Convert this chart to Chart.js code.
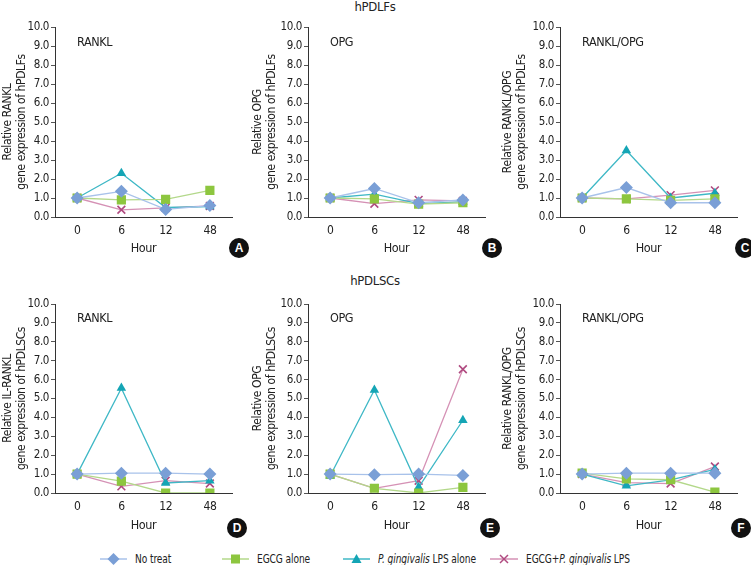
<!DOCTYPE html>
<html>
<head>
<meta charset="utf-8">
<script src="https://cdn.jsdelivr.net/npm/chart.js@4.4.1/dist/chart.umd.min.js"></script>
<style>
  html, body { margin:0; padding:0; background:#fff; }
  body { width:751px; height:565px; position:relative; overflow:hidden;
         font-family:"DejaVu Sans Condensed","Liberation Sans",sans-serif; color:#222; }
  .pane { position:absolute; }
  .sect { position:absolute; font-size:13px; letter-spacing:-0.3px; transform:translateX(-50%); white-space:nowrap; }
  .badge { position:absolute; width:20px; height:20px; border-radius:50%; background:#111; color:#fff;
           font-family:"Liberation Sans","DejaVu Sans",sans-serif; font-weight:bold; font-size:12px;
           line-height:20px; text-align:center; transform:translate(-50%,-50%); }
  .leg { position:absolute; top:550px; height:18px; display:flex; align-items:center; font-size:12px; white-space:nowrap; }
  .leg svg { margin-right:8px; flex:none; }
  .leg span { display:inline-block; transform:scaleX(0.84); transform-origin:left center; letter-spacing:-0.1px; }
</style>
</head>
<body>
<div class="sect" style="left:375px; top:-1px;">hPDLFs</div>
<div class="sect" style="left:375px; top:273px;">hPDLSCs</div>

<canvas id="cA" class="pane"></canvas>
<canvas id="cB" class="pane"></canvas>
<canvas id="cC" class="pane"></canvas>
<canvas id="cD" class="pane"></canvas>
<canvas id="cE" class="pane"></canvas>
<canvas id="cF" class="pane"></canvas>

<div class="badge" style="left:239px; top:248px;">A</div>
<div class="badge" style="left:492px; top:248px;">B</div>
<div class="badge" style="left:745px; top:248px;">C</div>
<div class="badge" style="left:237px; top:528px;">D</div>
<div class="badge" style="left:490px; top:528px;">E</div>
<div class="badge" style="left:741px; top:528px;">F</div>

<div class="leg" style="left:100px;">
  <svg width="27" height="14"><line x1="0" y1="7" x2="27" y2="7" stroke="#a8c2ea" stroke-width="1.5"/><polygon points="13.5,1 19.5,7 13.5,13 7.5,7" fill="#7a9fd6"/></svg><span>No treat</span></div>
<div class="leg" style="left:222px;">
  <svg width="27" height="14"><line x1="0" y1="7" x2="27" y2="7" stroke="#b3d88a" stroke-width="1.5"/><rect x="9" y="2.5" width="9" height="9" fill="#8dc63f"/></svg><span>EGCG alone</span></div>
<div class="leg" style="left:343px;">
  <svg width="27" height="14"><line x1="0" y1="7" x2="27" y2="7" stroke="#3fb8c6" stroke-width="1.5"/><polygon points="13.5,2 18.5,11 8.5,11" fill="#14a5b5"/></svg><span><i>P. gingivalis</i> LPS alone</span></div>
<div class="leg" style="left:490px;">
  <svg width="28" height="14"><line x1="0" y1="7" x2="28" y2="7" stroke="#d591b5" stroke-width="1.5"/><path d="M10,3 L18,11 M18,3 L10,11" stroke="#b04a80" stroke-width="1.5"/></svg><span>EGCG+<i>P. gingivalis</i> LPS</span></div>

<script>
// ---------- data ----------
const hours = ['0', '6', '12', '48'];
const yTickValues = [0,1,2,3,4,5,6,7,8,9,10];
const seriesNames = ['No treat', 'EGCG alone', 'P. gingivalis LPS alone', 'EGCG+P. gingivalis LPS'];

// hPDLFs
const fRanklNoTreat = [1.0, 1.35, 0.40, 0.60];
const fRanklEgcg    = [1.0, 0.90, 0.93, 1.40];
const fRanklLps     = [1.0, 2.30, 0.50, 0.55];
const fRanklCombo   = [1.0, 0.38, 0.48, 0.58];

const fOpgNoTreat = [1.0, 1.50, 0.75, 0.90];
const fOpgEgcg    = [1.0, 0.95, 0.68, 0.75];
const fOpgLps     = [1.0, 1.20, 0.70, 0.80];
const fOpgCombo   = [1.0, 0.70, 0.90, 0.85];

const fRatioNoTreat = [1.0, 1.55, 0.75, 0.75];
const fRatioEgcg    = [1.0, 0.95, 0.88, 0.95];
const fRatioLps     = [1.0, 3.50, 1.00, 1.25];
const fRatioCombo   = [1.0, 0.95, 1.15, 1.40];

// hPDLSCs
const sRanklNoTreat = [1.0, 1.05, 1.05, 1.00];
const sRanklEgcg    = [1.0, 0.63, 0.00, 0.00];
const sRanklLps     = [1.0, 5.55, 0.53, 0.65];
const sRanklCombo   = [1.0, 0.35, 0.65, 0.50];

const sOpgNoTreat = [1.0, 0.97, 1.00, 0.93];
const sOpgEgcg    = [1.0, 0.25, 0.00, 0.30];
const sOpgLps     = [0.9, 5.45, 0.30, 3.85];
const sOpgCombo   = [1.0, 0.25, 0.65, 6.55];

const sRatioNoTreat = [1.0, 1.05, 1.05, 1.05];
const sRatioEgcg    = [1.05, 0.75, 0.70, 0.05];
const sRatioLps     = [1.0, 0.38, 0.70, 1.25];
const sRatioCombo   = [1.0, 0.55, 0.50, 1.40];

// ---------- styles ----------
const FONT = '"DejaVu Sans Condensed","Liberation Sans",sans-serif';
const styles = [
  {line:'#a8c2ea', mark:'#7a9fd6', pointStyle:'rectRot', r:6.5},
  {line:'#b3d88a', mark:'#8dc63f', pointStyle:'rect', r:6.5},
  {line:'#3fb8c6', mark:'#14a5b5', pointStyle:'triangle', r:5.5},
  {line:'#d591b5', mark:'#b04a80', pointStyle:'crossRot', r:5.5},
];

function makeDatasets(arrs) {
  return arrs.map((d, i) => ({
    label: seriesNames[i],
    data: d,
    borderColor: styles[i].line,
    borderWidth: 1.3,
    pointStyle: styles[i].pointStyle,
    pointRadius: styles[i].r,
    pointHoverRadius: styles[i].r,
    pointBackgroundColor: styles[i].mark,
    pointBorderColor: styles[i].mark,
    pointBorderWidth: i === 3 ? 1.6 : 0,
    tension: 0,
    fill: false
  }));
}

const condense = {
  id: 'condense',
  beforeInit(chart) { try { chart.ctx.letterSpacing = '-0.4px'; } catch (e) {} },
  beforeUpdate(chart) { try { chart.ctx.letterSpacing = '-0.4px'; } catch (e) {} }
};

const panelLabel = {
  id: 'panelLabel',
  afterDraw(chart, args, opts) {
    const {ctx, chartArea} = chart;
    ctx.save();
    ctx.font = '12.5px ' + FONT;
    ctx.fillStyle = '#222';
    ctx.textBaseline = 'middle';
    ctx.textAlign = 'left';
    ctx.fillText(opts.text, chartArea.left + 22, chartArea.top + opts.dy);
    ctx.restore();
  }
};

function makePanel(id, box, area, label, ytitle, arrs) {
  const cv = document.getElementById(id);
  cv.style.left = box.left + 'px';
  cv.style.top = box.top + 'px';
  cv.style.width = box.w + 'px';
  cv.style.height = box.h + 'px';
  cv.width = box.w; cv.height = box.h;
  const yW = area.left - box.left;
  const xH = (box.top + box.h) - area.bottom;
  new Chart(cv, {
    type: 'line',
    data: { labels: hours, datasets: makeDatasets(arrs) },
    plugins: [condense, panelLabel],
    options: {
      responsive: false,
      animation: false,
      devicePixelRatio: 1,
      layout: { padding: { top: area.top - box.top, right: (box.left + box.w) - area.right, left: 0, bottom: 0 } },
      plugins: {
        legend: { display: false },
        tooltip: { enabled: false },
        panelLabel: { text: label, dy: area.dy }
      },
      scales: {
        x: {
          type: 'category',
          offset: true,
          grid: { display: false, drawTicks: false },
          border: { display: true, color: '#333', width: 1 },
          ticks: { color: '#222', font: { family: FONT, size: 12 }, padding: 7, maxRotation: 0 },
          title: { display: true, text: 'Hour', color: '#222', font: { family: FONT, size: 12.5 }, padding: { top: 2, bottom: area.tpad } },
          afterFit(s) { s.height = xH; }
        },
        y: {
          min: 0, max: 10,
          afterBuildTicks(s) { s.ticks = yTickValues.map(v => ({ value: v })); },
          grid: { display: true, drawOnChartArea: false, drawTicks: true, tickLength: 4, color: '#555' },
          border: { display: true, color: '#333', width: 1 },
          ticks: { color: '#222', font: { family: FONT, size: 11.5 }, padding: 2, callback: v => Number(v).toFixed(1) },
          title: { display: true, text: ytitle, color: '#222', font: { family: FONT, size: 12, lineHeight: 1.18 }, padding: { top: 1, bottom: 0 } },
          afterFit(s) { s.width = yW; }
        }
      }
    }
  });
}

const topBox = (l, w) => ({ left: l, top: 0, w: w, h: 262 });
const botBox = (l, w) => ({ left: l, top: 262, w: w, h: 280 });
const topArea = (l, r) => ({ left: l, right: r, top: 27, bottom: 217, dy: 16, tpad: 6 });
const botArea = (l, r) => ({ left: l, right: r, top: 304, bottom: 493, dy: 15, tpad: 9 });

makePanel('cA', topBox(0, 250),   topArea(55, 232),  'RANKL',     ['Relative RANKL', 'gene expression of hPDLFs'],      [fRanklNoTreat, fRanklEgcg, fRanklLps, fRanklCombo]);
makePanel('cB', topBox(250, 250), topArea(308, 485), 'OPG',       ['Relative OPG', 'gene expression of hPDLFs'],        [fOpgNoTreat, fOpgEgcg, fOpgLps, fOpgCombo]);
makePanel('cC', topBox(500, 251), topArea(560, 737), 'RANKL/OPG', ['Relative RANKL/OPG', 'gene expression of hPDLFs'],  [fRatioNoTreat, fRatioEgcg, fRatioLps, fRatioCombo]);
makePanel('cD', botBox(0, 250),   botArea(55, 232),  'RANKL',     ['Relative IL-RANKL', 'gene expression of hPDLSCs'],  [sRanklNoTreat, sRanklEgcg, sRanklLps, sRanklCombo]);
makePanel('cE', botBox(250, 250), botArea(308, 485), 'OPG',       ['Relative OPG', 'gene expression of hPDLSCs'],       [sOpgNoTreat, sOpgEgcg, sOpgLps, sOpgCombo]);
makePanel('cF', botBox(500, 251), botArea(560, 737), 'RANKL/OPG', ['Relative RANKL/OPG', 'gene expression of hPDLSCs'], [sRatioNoTreat, sRatioEgcg, sRatioLps, sRatioCombo]);
</script>
</body>
</html>
